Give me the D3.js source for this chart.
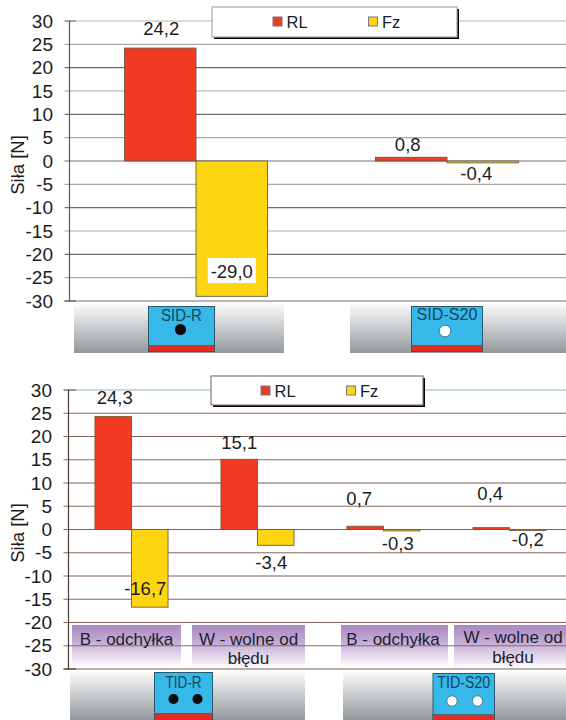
<!DOCTYPE html>
<html>
<head>
<meta charset="utf-8">
<script src="https://cdn.jsdelivr.net/npm/d3@7"></script>
<style>
html,body{margin:0;padding:0;background:#fff}
svg{display:block}
text{font-family:"Liberation Sans",Arial,sans-serif;fill:#1c1c1c}
</style>
</head>
<body>
<svg id="chart" width="566" height="720"></svg>
<script>
// Force measurements per specimen, in newtons
const seriesNames = ["RL", "Fz"];
const singleCategories = ["SID-R", "SID-S20"];
const singleRL = [24.2, 0.8];
const singleFz = [-29.0, -0.4];
const tandemCategories = ["R-B", "R-W", "S20-B", "S20-W"];
const tandemRL = [24.3, 15.1, 0.7, 0.4];
const tandemFz = [-16.7, -3.4, -0.3, -0.2];
const tickValues = [30, 25, 20, 15, 10, 5, 0, -5, -10, -15, -20, -25, -30];
const axisTitle = "Siła [N]";
const conditionLabels = [["B - odchyłka"], ["W - wolne od", "błędu"], ["B - odchyłka"], ["W - wolne od", "błędu"]];

const colors = { RL: "#f03a22", Fz: "#fdd510" };
const svg = d3.select("#chart");
const defs = svg.append("defs");
// Decimal comma with a plain hyphen for negatives
const comma = v => v.toFixed(1).replace(".", ",");

const steel = defs.append("linearGradient").attr("id", "steel").attr("x2", 0).attr("y2", 1);
steel.append("stop").attr("offset", 0).attr("stop-color", "#ffffff");
steel.append("stop").attr("offset", 1).attr("stop-color", "#92989b");
const lilac = defs.append("linearGradient").attr("id", "lilac").attr("x2", 0).attr("y2", 1);
lilac.append("stop").attr("offset", 0).attr("stop-color", "#ab88c2");
lilac.append("stop").attr("offset", 0.4).attr("stop-color", "#c4acd5");
lilac.append("stop").attr("offset", 1).attr("stop-color", "#ffffff");

function specimen(x, y, w, h, stripe, name, titleWidth, holes, holeFill, titleY) {
  svg.append("rect").attr("x", x).attr("y", y).attr("width", w).attr("height", h)
    .attr("fill", "#36b8e8").attr("stroke", "#2c5a6c").attr("stroke-width", 1);
  svg.append("rect").attr("x", x).attr("y", y + h - stripe).attr("width", w).attr("height", stripe)
    .attr("fill", "#e32b26").attr("stroke", "#2c5a6c").attr("stroke-width", 0.6);
  svg.append("text").attr("x", x + w / 2).attr("y", titleY).attr("text-anchor", "middle")
    .attr("font-size", 16).attr("textLength", titleWidth).attr("lengthAdjust", "spacingAndGlyphs")
    .style("fill", "#17455c").text(name);
  holes.forEach(h => svg.append("circle").attr("cx", h[0]).attr("cy", h[1]).attr("r", h[2])
    .attr("fill", holeFill).attr("stroke", holeFill === "#fff" ? "#3a6a7c" : "none").attr("stroke-width", 0.8));
}

function legend(x, y, w, h, border, items) {
  svg.append("rect").attr("x", x + 2).attr("y", y + 2).attr("width", w).attr("height", h).attr("fill", "#000");
  svg.append("rect").attr("x", x).attr("y", y).attr("width", w).attr("height", h)
    .attr("fill", "#fff").attr("stroke", border).attr("stroke-width", 1.2);
  seriesNames.forEach((s, i) => {
    svg.append("rect").attr("x", items[i]).attr("y", y + 10).attr("width", 9).attr("height", 9)
      .attr("fill", colors[s]).attr("stroke", "#777").attr("stroke-width", 1);
    svg.append("text").attr("x", items[i] + 13.5).attr("y", y + 21).attr("font-size", 16.5)
      .style("fill", "#16202c").text(s);
  });
}

function panel(o) {
  const y = d3.scaleLinear().domain([-30, 30]).range([o.yBottom, o.yTop]);
  const x0 = d3.scaleBand().domain(o.categories).range(o.xRange)
    .paddingInner(o.gap).paddingOuter(o.gap / 2);
  const x1 = d3.scaleBand().domain(seriesNames).range([0, x0.bandwidth()]);

  // Gridlines, then the axis line and its outer ticks
  tickValues.forEach(t => {
    const top = t === 30;
    const even = Math.abs(t) % 10 === 0;
    svg.append("line").attr("x1", top ? 76 : o.axisX - 5).attr("x2", 566)
      .attr("y1", y(t)).attr("y2", y(t))
      .attr("stroke", top ? o.topLine : (even ? o.gridA : o.gridB)).attr("stroke-width", 1.2);
    svg.append("text").attr("x", o.labelX).attr("y", y(t) + 6.6).attr("text-anchor", "end")
      .attr("font-size", 19).text(t);
  });
  svg.append("line").attr("x1", o.axisX).attr("x2", o.axisX).attr("y1", y(30)).attr("y2", y(-30))
    .attr("stroke", o.axisColor).attr("stroke-width", 1.2);
  [30, -30].forEach(t => svg.append("line").attr("x1", o.axisX - 5).attr("x2", 76)
    .attr("y1", y(t)).attr("y2", y(t)).attr("stroke", o.axisColor).attr("stroke-width", 1.1));

  svg.append("text").attr("transform", `translate(${o.titleX},${o.titleY}) rotate(-90)`)
    .attr("text-anchor", "middle").attr("font-size", 18.5).text(axisTitle);

  // Bars for each series, hanging from the zero line
  seriesNames.forEach((s, si) => {
    const vals = si === 0 ? o.rl : o.fz;
    svg.selectAll(null).data(o.categories).enter().append("rect")
      .attr("x", d => x0(d) + x1(s))
      .attr("width", x1.bandwidth())
      .attr("y", (d, i) => Math.min(y(0), y(vals[i])))
      .attr("height", (d, i) => Math.abs(y(vals[i]) - y(0)))
      .attr("fill", colors[s])
      .attr("stroke", o.barStroke).attr("stroke-width", 0.9);
  });

  // Value labels with their hand-placed centres
  seriesNames.forEach((s, si) => {
    const vals = si === 0 ? o.rl : o.fz;
    o.categories.forEach((c, i) => {
      const [dx, cy] = o.labelPlace[si][i];
      const cx = x0(c) + x1(s) + x1.bandwidth() / 2 + dx;
      if (o.boxed && o.boxed[si] === i) {
        svg.append("rect").attr("x", cx - 24).attr("y", cy - 13).attr("width", 48).attr("height", 25).attr("fill", "#fff");
      }
      svg.append("text").attr("x", cx).attr("y", cy + 6.5).attr("text-anchor", "middle")
        .attr("font-size", 18.5).text(comma(vals[i]));
    });
  });
}

// Plate strips below the upper chart
[[74, 210], [350, 216]].forEach(r => svg.append("rect").attr("x", r[0]).attr("y", 302).attr("width", r[1]).attr("height", 51).attr("fill", "url(#steel)"));
// Plate strips below the lower chart
[[70, 235], [343, 223]].forEach(r => svg.append("rect").attr("x", r[0]).attr("y", 670).attr("width", r[1]).attr("height", 50).attr("fill", "url(#steel)"));
// Condition captions sit beneath the lower gridlines
[[72, 109, 625, 42], [192, 113, 625, 44], [341, 107, 625, 42], [454, 112, 625, 44]].forEach(r =>
  svg.append("rect").attr("x", r[0]).attr("y", r[2]).attr("width", r[1]).attr("height", r[3]).attr("fill", "url(#lilac)"));

panel({
  categories: singleCategories, rl: singleRL, fz: singleFz,
  yTop: 21, yBottom: 301, xRange: [70.5, 572.5], gap: 0.43, axisX: 69.5, labelX: 53,
  titleX: 24, titleY: 165,
  topLine: "#b5b5b5", gridA: "#6e6e6e", gridB: "#a8a8a8", axisColor: "#5a5a5a", barStroke: "#6a5a4a",
  labelPlace: [[[1, 28], [-3.5, 144]], [[0, 271], [-6.5, 173]]],
  boxed: { 1: 0 }
});
panel({
  categories: tandemCategories, rl: tandemRL, fz: tandemFz,
  yTop: 390, yBottom: 669, xRange: [68.5, 572.5], gap: 0.42, axisX: 68.5, labelX: 52,
  titleX: 24, titleY: 533,
  topLine: "#8fb6c8", gridA: "#7f5f58", gridB: "#8a6a62", axisColor: "#4f3a36", barStroke: "#7a5a3a",
  labelPlace: [[[1.5, 397], [0, 442], [-6, 498], [-1, 493]], [[-4.5, 588], [-4.5, 562], [-4, 543], [0, 539]]]
});

// Condition caption text
[126.5, 248.5, 393, 513].forEach((cx, i) => {
  conditionLabels[i].forEach((line, k) => {
    svg.append("text").attr("x", cx).attr("y", (i === 3 ? 643 : 644.5) + k * 19.5).attr("text-anchor", "middle")
      .attr("font-size", 17).style("fill", "#20222e").text(line);
  });
});

legend(212, 7, 245, 30, "#a8a8a8", [273, 368.5]);
legend(211, 376, 212, 29, "#8c7874", [261, 346.5]);

specimen(148.5, 306.5, 66, 45, 6, "SID-R", 41, [[180.5, 329.5, 5.6]], "#0b0b0b", 321);
specimen(411.5, 306.5, 71, 45, 6, "SID-S20", 61, [[445, 331, 5.8]], "#fff", 320);
specimen(154.5, 672.5, 58, 50, 9, "TID-R", 36, [[173.5, 699, 5], [197.5, 699, 5]], "#0b0b0b", 688);
specimen(433, 673.5, 61.5, 50, 9, "TID-S20", 53, [[452, 701, 5.2], [477.5, 701, 5.2]], "#fff", 688);
</script>
</body>
</html>
